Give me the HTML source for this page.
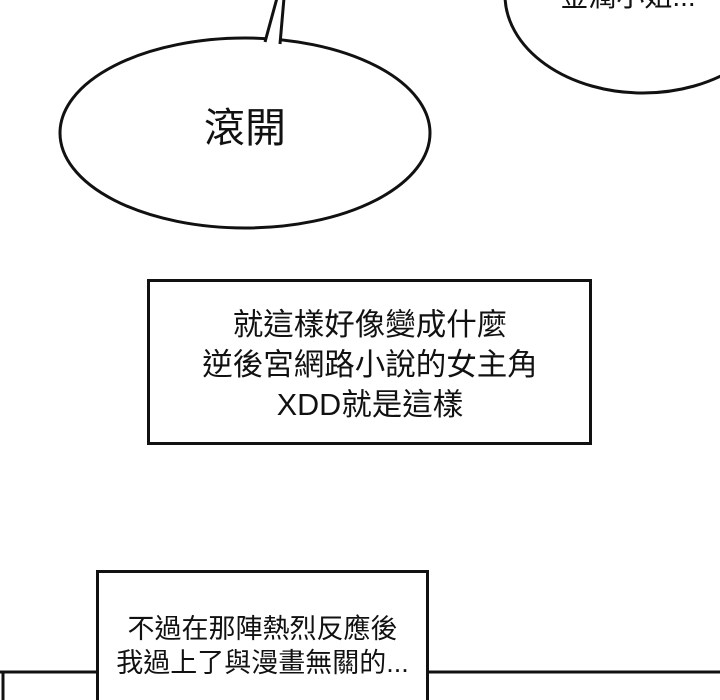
<!DOCTYPE html>
<html><head><meta charset="utf-8"><style>
body{margin:0;width:720px;height:700px;overflow:hidden;background:#fff;position:relative;font-family:"Liberation Sans","Noto Sans CJK TC",sans-serif;color:#111}
.t{position:absolute;white-space:nowrap;text-align:center}
</style></head><body>
<svg width="720" height="700" style="position:absolute;left:0;top:0">
<ellipse cx="643" cy="-5" rx="138" ry="98" fill="#fff" stroke="#111" stroke-width="3"/>
<ellipse cx="245" cy="133" rx="185" ry="95" fill="#fff" stroke="#111" stroke-width="3"/>
<polygon points="266,43 278,-2 288,-2 280,44" fill="#fff"/>
<polyline points="265,42 277,-2" fill="none" stroke="#111" stroke-width="3"/>
<polyline points="280,44 284,-2" fill="none" stroke="#111" stroke-width="3"/>
<rect x="148.5" y="280.5" width="442" height="163" fill="#fff" stroke="#111" stroke-width="3"/>
<polyline points="0,672 97,672" stroke="#111" stroke-width="3"/>
<polyline points="427,672 720,672" stroke="#111" stroke-width="3"/>
<polyline points="3,672 3,700" stroke="#111" stroke-width="3"/>
<rect x="97.5" y="571.5" width="330" height="140" fill="#fff" stroke="#111" stroke-width="3"/>
</svg>
<div class="t" style="left:538px;top:-25px;width:180px;font-size:28px">金潤小姐...</div>
<div class="t" style="left:145px;top:94px;width:200px;font-size:41px">滾開</div>
<div class="t" style="left:148px;top:305px;width:444px;font-size:30.5px;line-height:40px">就這樣好像變成什麼<br>逆後宮網路小說的女主角<br>XDD就是這樣</div>
<div class="t" style="left:97px;top:612px;width:331px;font-size:27px;line-height:34px">不過在那陣熱烈反應後<br>我過上了與漫畫無關的...</div>
</body></html>
